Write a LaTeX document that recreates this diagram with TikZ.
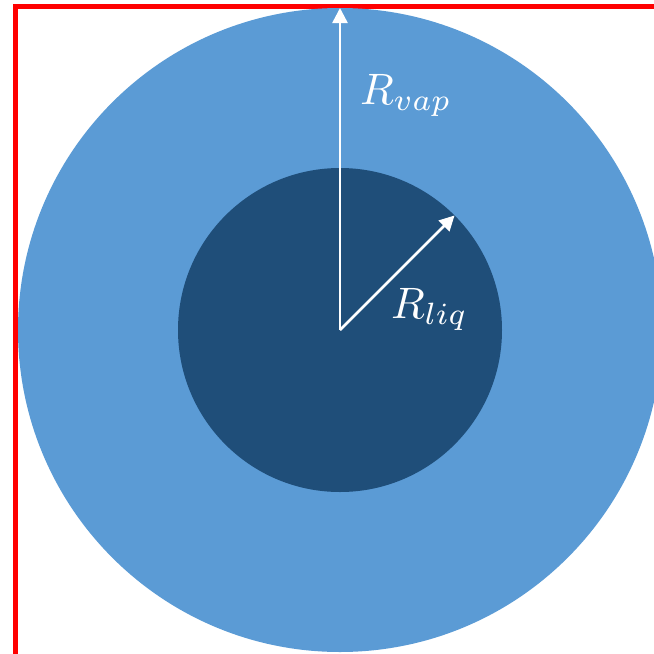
\documentclass[tikz,border=0pt]{standalone}
\usepackage{tikz}
\usetikzlibrary{arrows.meta,positioning}
\definecolor{vapblue}{HTML}{5B9BD5}
\definecolor{liqblue}{HTML}{1F4E79}
\definecolor{framered}{HTML}{FF0000}
\newcommand{\biglabel}[1]{\scalebox{4.4}{$#1$}}

\begin{document}
\begin{tikzpicture}[
    x=1pt, y=-1pt,
    >={Triangle[width=15pt,length=15pt]},
    drop/.style={circle, inner sep=0pt, outer sep=0pt, draw=none},
    radius arrow/.style={->, white, line width=2.5pt},
    label text/.style={text=white, inner sep=0pt, anchor=base west},
]
\useasboundingbox (0,0) rectangle (654,654);
\clip (0,0) rectangle (654,654);

% Frame
\draw[framered, line width=5pt] (15.5,6.5) rectangle (700,656);

% Droplets
\coordinate (ctr) at (340,330);
\node[drop, fill=vapblue, minimum size=644pt] (vap) at (ctr) {};
\node[drop, fill=liqblue, minimum size=324pt] (liq) at (ctr) {};

% Radii
\draw[radius arrow] (ctr) -- (vap.north);
\draw[radius arrow] (ctr) -- (liq.45);

% Labels
\node[label text] (rvap) at (360,104) {\biglabel{R_{vap}}};
\node[label text] (rliq) at (391,318) {\biglabel{R_{liq}}};
\end{tikzpicture}
\end{document}
